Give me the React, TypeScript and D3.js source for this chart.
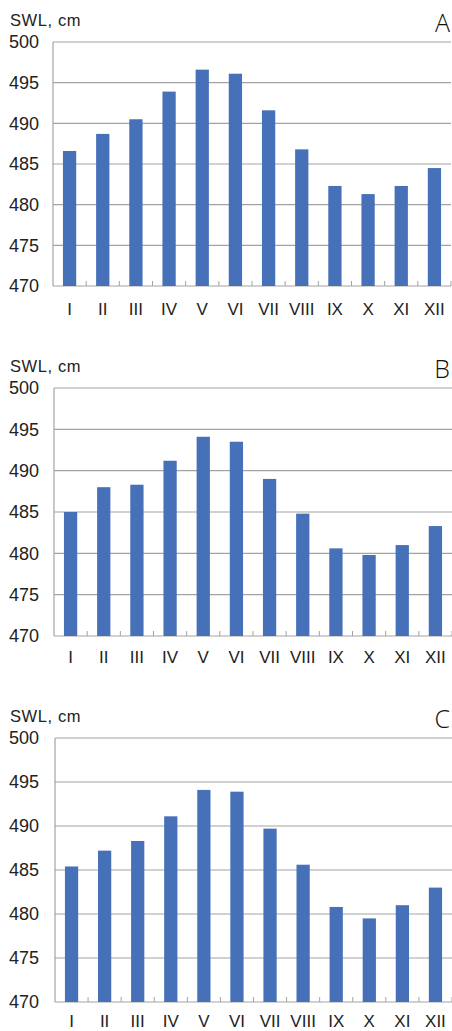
import React from "react";
import * as d3 from "d3";

const months = ["I", "II", "III", "IV", "V", "VI", "VII", "VIII", "IX", "X", "XI", "XII"];
const yTicks = [470, 475, 480, 485, 490, 495, 500];

const swlA = [486.6, 488.7, 490.5, 493.9, 496.6, 496.1, 491.6, 486.8, 482.3, 481.3, 482.3, 484.5];
const swlB = [485.0, 488.0, 488.3, 491.2, 494.1, 493.5, 489.0, 484.8, 480.6, 479.8, 481.0, 483.3];
const swlC = [485.4, 487.2, 488.3, 491.1, 494.1, 493.9, 489.7, 485.6, 480.8, 479.5, 481.0, 483.0];

const panels = [
  { letter: "A", values: swlA, left: 53, right: 451, top: 42, bottom: 286, labelGap: 29 },
  { letter: "B", values: swlB, left: 54, right: 452, top: 388, bottom: 636, labelGap: 27 },
  { letter: "C", values: swlC, left: 55, right: 452, top: 738, bottom: 1002, labelGap: 25 },
];

const gridColor = "#a3a3a3";
const barColor = "#4670b8";
const labelFont = "'Liberation Sans', Arial, sans-serif";

function Panel({ p }) {
  const x = d3
    .scaleBand()
    .domain(months)
    .range([p.left, p.right])
    .paddingInner(0.6)
    .paddingOuter(0.3);
  const y = d3.scaleLinear().domain([470, 500]).range([p.bottom, p.top]);
  const step = x.step();

  return (
    <g>
      <text
        x={10}
        y={p.top - 16}
        fontFamily={labelFont}
        fontSize={16.5}
        letterSpacing={0.6}
        fill="#222"
      >
        SWL, cm
      </text>
      <text
        x={450}
        y={p.top - 10}
        textAnchor="end"
        fontFamily="'Open Sans', sans-serif"
        fontWeight={300}
        fontSize={25}
        fill="#111"
      >
        {p.letter}
      </text>

      {yTicks.map((t) => (
        <g key={t}>
          <line x1={p.left} x2={p.right} y1={y(t)} y2={y(t)} stroke={gridColor} strokeWidth={1.2} />
          <text
            x={39}
            y={y(t)}
            dy="0.36em"
            textAnchor="end"
            fontFamily={labelFont}
            fontSize={18}
            fill="#222"
          >
            {t}
          </text>
        </g>
      ))}
      <line x1={p.left} x2={p.left} y1={p.top} y2={p.bottom} stroke={gridColor} strokeWidth={1.2} />

      {months.map((m, i) => (
        <line
          key={"tk" + m}
          x1={p.left + step * (i + 1)}
          x2={p.left + step * (i + 1)}
          y1={p.bottom}
          y2={p.bottom - 5}
          stroke={gridColor}
          strokeWidth={1}
        />
      ))}

      {p.values.map((v, i) => (
        <rect
          key={months[i]}
          x={x(months[i])}
          y={y(v)}
          width={x.bandwidth()}
          height={p.bottom - y(v)}
          fill={barColor}
        />
      ))}

      {months.map((m) => (
        <text
          key={"lb" + m}
          x={x(m) + x.bandwidth() / 2}
          y={p.bottom + p.labelGap}
          textAnchor="middle"
          fontFamily={labelFont}
          fontSize={17}
          fill="#222"
        >
          {m}
        </text>
      ))}
    </g>
  );
}

export default function App() {
  return (
    <div style={{ position: "absolute", left: 0, top: 0 }}>
      <svg width={452} height={1031} style={{ display: "block", background: "#fff" }}>
        {panels.map((p) => (
          <Panel key={p.letter} p={p} />
        ))}
      </svg>
    </div>
  );
}
